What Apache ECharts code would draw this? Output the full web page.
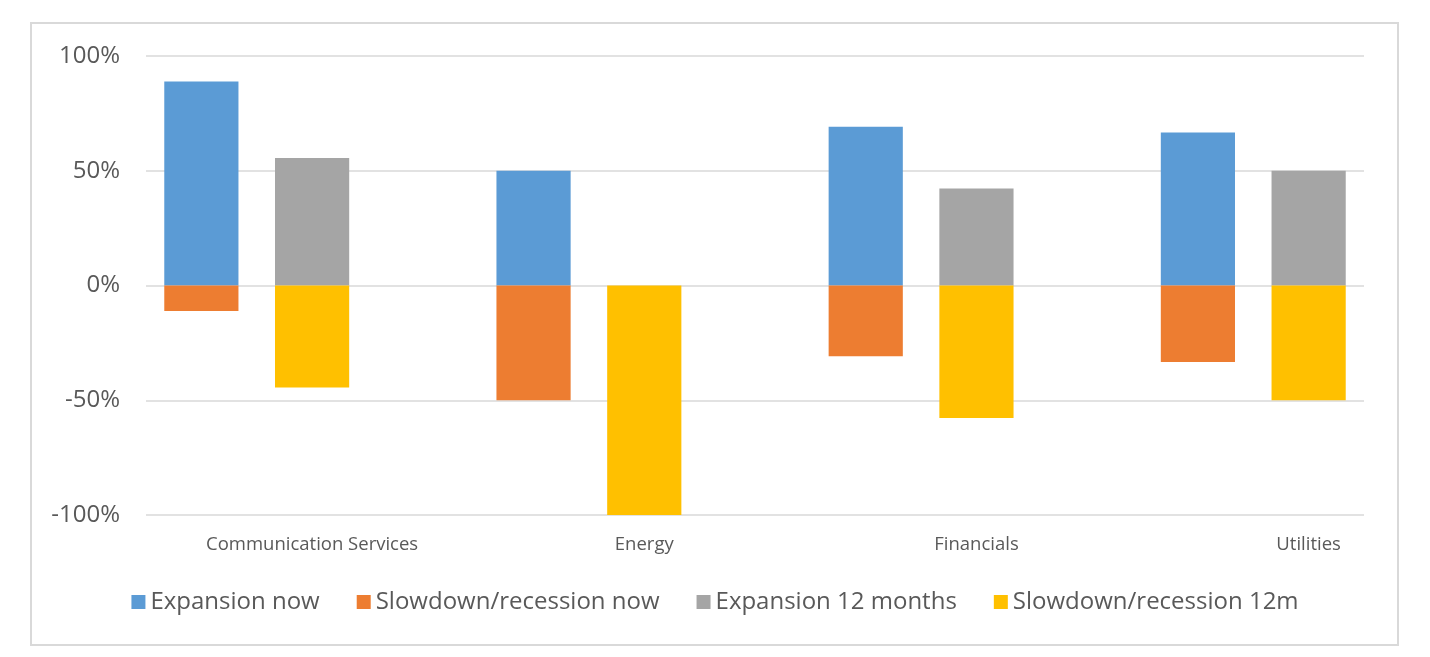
<!DOCTYPE html>
<html>
<head>
<meta charset="utf-8">
<script src="https://cdn.jsdelivr.net/npm/echarts@6/dist/echarts.min.js"></script>
<style>
html,body{margin:0;padding:0;background:#fff;}
#c{width:1430px;height:657px;position:absolute;left:0;top:0;}
#frame{position:absolute;left:30px;top:22px;width:1365px;height:620px;border:2px solid #d9d9d9;pointer-events:none;}
</style>
</head>
<body>
<div id="frame"></div>
<div id="c"></div>
<script>
const categories = ['Communication Services', 'Energy', 'Financials', 'Utilities'];
const expansionNow = [88.9, 50, 69.2, 66.7];
const slowdownNow = [-11.1, -50, -30.8, -33.3];
const expansion12m = [55.6, 0, 42.3, 50];
const slowdown12m = [-44.4, -100, -57.7, -50];
const yTicks = { min: -100, max: 100, interval: 50 };

// Build slots: each category uses two bar slots plus a spacer slot between groups
const slotLabels = [];
const sA = [], sB = [], sC = [], sD = [];
categories.forEach((cat, i) => {
  slotLabels.push(''); sA.push(expansionNow[i]); sB.push(slowdownNow[i]); sC.push(null); sD.push(null);
  slotLabels.push(cat); sA.push(null); sB.push(null); sC.push(expansion12m[i]); sD.push(slowdown12m[i]);
  if (i < categories.length - 1) {
    slotLabels.push(''); sA.push(null); sB.push(null); sC.push(null); sD.push(null);
  }
});

const textColor = '#595959';
const font = '"Open Sans", sans-serif';
const chart = echarts.init(document.getElementById('c'));
const mk = (name, data, color) => ({
  name, type: 'bar', stack: 'all', data, barCategoryGap: '33%',
  itemStyle: { color }, emphasis: { disabled: true }
});
chart.setOption({
  animation: false,
  textStyle: { fontFamily: font },
  grid: { left: 146, right: 66, top: 56, bottom: 142 },
  legend: {
    bottom: 38, left: 'center', icon: 'rect', itemWidth: 14, itemHeight: 14,
    itemGap: 37, textStyle: { color: textColor, fontSize: 24, fontFamily: font },
    data: ['Expansion now', 'Slowdown/recession now', 'Expansion 12 months', 'Slowdown/recession 12m']
  },
  xAxis: {
    type: 'category', data: slotLabels,
    axisLine: { show: false }, axisTick: { show: false },
    axisLabel: { interval: 0, color: textColor, fontSize: 18.5, margin: 20, fontFamily: font }
  },
  yAxis: {
    type: 'value', min: yTicks.min, max: yTicks.max, interval: yTicks.interval,
    axisLine: { show: false }, axisTick: { show: false },
    axisLabel: { formatter: '{value}%', color: textColor, fontSize: 24, margin: 26, fontFamily: font },
    splitLine: { lineStyle: { color: '#d9d9d9', width: 1.5 } }
  },
  series: [
    mk('Expansion now', sA, '#5B9BD5'),
    mk('Slowdown/recession now', sB, '#ED7D31'),
    mk('Expansion 12 months', sC, '#A5A5A5'),
    mk('Slowdown/recession 12m', sD, '#FFC000')
  ]
});
</script>
</body>
</html>
